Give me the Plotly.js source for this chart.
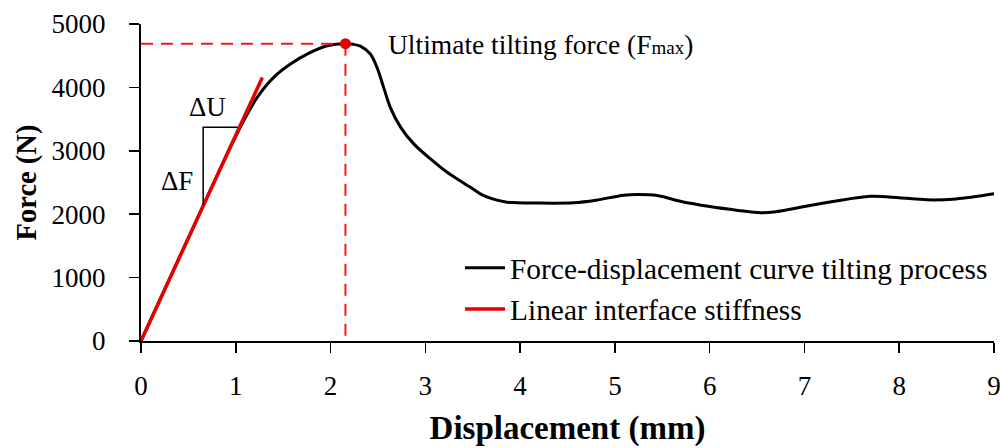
<!DOCTYPE html>
<html>
<head>
<meta charset="utf-8">
<script src="https://cdn.plot.ly/plotly-3.0.1.min.js"></script>
<style>html,body{margin:0;padding:0;background:#fff;}#chart{width:1000px;height:448px;}</style>
</head>
<body>
<div id="chart"></div>
<script>
// Measured force-displacement curve (mm, N)
const disp  = [0, 0.3, 0.6, 0.9, 1.0, 1.1, 1.226, 1.4, 1.577, 1.788, 1.964, 2.157, 2.24, 2.315, 2.42, 2.49, 2.56, 2.63, 2.74, 2.878, 3.054, 3.23, 3.336, 3.476, 3.58, 3.7, 3.863, 4.2, 4.565, 4.8, 5.093, 5.25, 5.445, 5.7, 6.0, 6.3, 6.535, 6.7, 6.957, 7.3, 7.696, 8.0, 8.29, 8.6, 9.0];
const force = [0, 975, 1950, 2920, 3230, 3520, 3843, 4158, 4368, 4551, 4657, 4690, 4680, 4650, 4526, 4315, 4000, 3685, 3370, 3109, 2872, 2661, 2557, 2425, 2321, 2245, 2189, 2175, 2180, 2220, 2300, 2310, 2294, 2200, 2121, 2060, 2022, 2040, 2110, 2200, 2283, 2260, 2227, 2240, 2321];
// Linear interface stiffness line
const linDisp  = [0, 1.28];
const linForce = [0, 4157];
// Ultimate tilting force point
const fmaxDisp = 2.157;
const fmaxForce = 4690;
// Stiffness triangle (ΔU, ΔF)
const triDisp  = [0.656, 0.656, 1.02];
const triForce = [2150, 3370, 3370];
// Axis ticks
const xTicks = [0,1,2,3,4,5,6,7,8,9];
const yTicks = [0,1000,2000,3000,4000,5000];

const FONT = "'Palatino Linotype','Book Antiqua',Palatino,'Liberation Serif',serif";

const traces = [
  {x: disp, y: force, mode: 'lines', name: 'Force-displacement curve tilting process',
   line: {color: '#000000', width: 3, shape: 'spline', smoothing: 0.9}},
  {x: linDisp, y: linForce, mode: 'lines', name: 'Linear interface stiffness',
   line: {color: '#e60000', width: 3.5}},
  {x: [0, fmaxDisp], y: [fmaxForce, fmaxForce], mode: 'lines', showlegend: false, hoverinfo: 'skip',
   line: {color: '#ee1c1c', width: 2, dash: '12px,8px'}},
  {x: [fmaxDisp, fmaxDisp], y: [fmaxForce, 0], mode: 'lines', showlegend: false, hoverinfo: 'skip',
   line: {color: '#ee1c1c', width: 2, dash: '12px,8px'}},
  {x: triDisp, y: triForce, mode: 'lines', showlegend: false, hoverinfo: 'skip',
   line: {color: '#000000', width: 1.5}},
  {x: [fmaxDisp], y: [fmaxForce], mode: 'markers', showlegend: false,
   marker: {color: '#e60000', size: 11}}
];

const layout = {
  width: 1000, height: 448,
  margin: {l: 141, r: 6, t: 24, b: 107, autoexpand: false},
  paper_bgcolor: '#ffffff', plot_bgcolor: '#ffffff',
  font: {family: FONT, color: '#000000', size: 26},
  showlegend: true,
  legend: {x: 0.374, y: 0.312, xanchor: 'left', yanchor: 'top', bgcolor: 'rgba(0,0,0,0)',
           font: {family: FONT, size: 29.4, color: '#000'}, tracegroupgap: 0, itemwidth: 40},
  xaxis: {range: [0, 9], tickvals: xTicks, ticktext: xTicks.map(String), ticks: 'outside', ticklen: 10, tickwidth: 1.5,
          tickcolor: '#000', showline: true, linecolor: '#000', linewidth: 2, showgrid: false, zeroline: false,
          automargin: false, ticklabelstandoff: 10, ticklabeloverflow: 'allow', tickfont: {family: FONT, size: 27},
          title: {text: '<b>Displacement (mm)</b>', standoff: 15, font: {family: FONT, size: 33}}},
  yaxis: {range: [0, 5000], tickvals: yTicks, ticktext: yTicks.map(String), ticks: 'outside', ticklen: 10, tickwidth: 1.5,
          tickcolor: '#000', showline: true, linecolor: '#000', linewidth: 2, showgrid: false, zeroline: false,
          automargin: false, ticklabelstandoff: 18, tickfont: {family: FONT, size: 27},
          title: {text: '<b>Force (N)</b>', standoff: 7, font: {family: FONT, size: 28.5}}},
  annotations: [
    {x: 2.59, y: 4670, xref: 'x', yref: 'y', xanchor: 'left', yanchor: 'middle', showarrow: false,
     text: 'Ultimate tilting force (F<span style="font-size:19px">max</span>)', font: {family: FONT, size: 27.5}},
    {x: 0.70, y: 3690, xref: 'x', yref: 'y', xanchor: 'center', yanchor: 'middle', showarrow: false,
     text: 'ΔU', font: {family: FONT, size: 27}},
    {x: 0.38, y: 2530, xref: 'x', yref: 'y', xanchor: 'center', yanchor: 'middle', showarrow: false,
     text: 'ΔF', font: {family: FONT, size: 27}}
  ]
};

Plotly.newPlot('chart', traces, layout, {displayModeBar: false, staticPlot: true});
</script>
</body>
</html>
